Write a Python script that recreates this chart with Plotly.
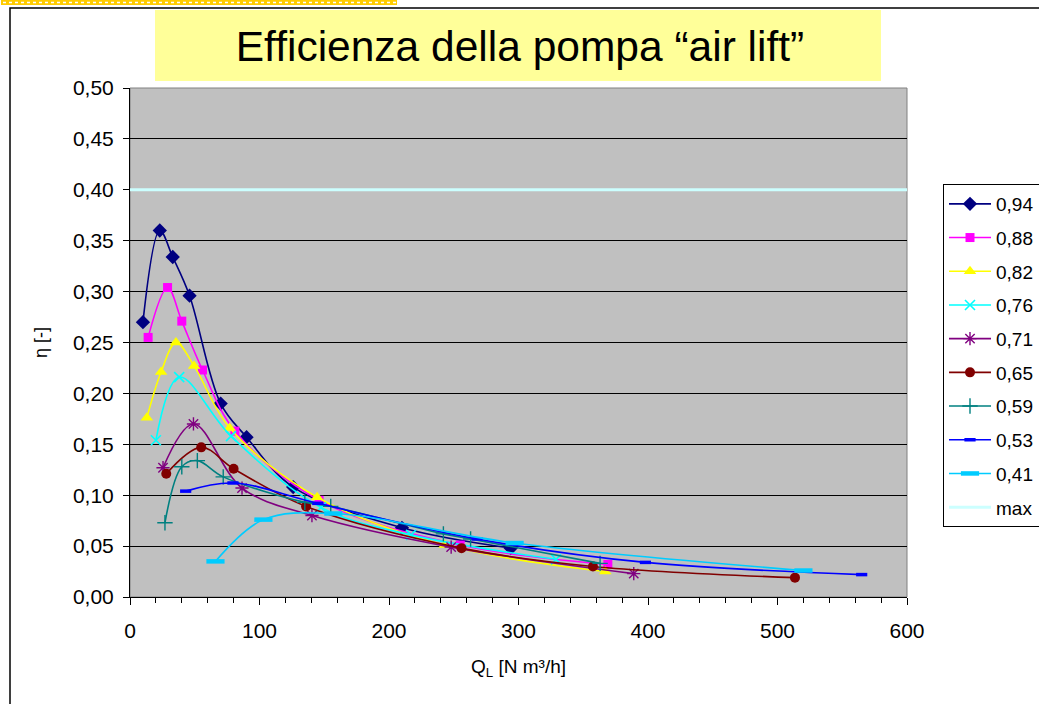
import plotly.graph_objects as go

# Air-lift pump efficiency vs. liquid flow rate, one series per submergence ratio
series_names = ["0,94", "0,88", "0,82", "0,76", "0,71", "0,65", "0,59", "0,53", "0,41"]

q_094 = [10, 23, 33, 46, 70, 90, 126, 210, 294]
eta_094 = [0.270, 0.360, 0.334, 0.296, 0.190, 0.157, 0.108, 0.068, 0.048]

q_088 = [14, 29, 40, 56, 81, 146, 255, 369]
eta_088 = [0.255, 0.304, 0.271, 0.223, 0.163, 0.095, 0.051, 0.032]

q_082 = [13, 24, 35.5, 49.5, 77, 144.5, 243, 367]
eta_082 = [0.176, 0.221, 0.250, 0.227, 0.166, 0.098, 0.051, 0.025]

q_076 = [20, 38, 78, 147.5, 217, 329]
eta_076 = [0.154, 0.216, 0.158, 0.088, 0.061, 0.037]

q_071 = [25.5, 49, 86.5, 140.5, 248, 389]
eta_071 = [0.127, 0.170, 0.107, 0.080, 0.049, 0.023]

q_065 = [28, 55, 80, 136, 256, 357.5, 513.5]
eta_065 = [0.121, 0.147, 0.126, 0.089, 0.048, 0.030, 0.019]

q_059 = [27, 40, 52, 72, 135, 155, 242, 263, 363]
eta_059 = [0.073, 0.128, 0.134, 0.118, 0.093, 0.089, 0.062, 0.057, 0.033]

q_053 = [43, 79.5, 145, 268, 398, 565]
eta_053 = [0.104, 0.112, 0.092, 0.057, 0.034, 0.022]

q_041 = [66, 103, 157, 297, 520]
eta_041 = [0.035, 0.076, 0.082, 0.053, 0.026]

q_max = [0, 600]
eta_max = [0.40, 0.40]

x_ticks = [0, 100, 200, 300, 400, 500, 600]

FONT = "Arial, 'Liberation Sans', sans-serif"

styles = [
    # (color, symbol, size, marker line width)
    ("#000080", "diamond", 11, 0),
    ("#FF00FF", "square", 9, 0),
    ("#FFFF00", "triangle-up", 11, 0),
    ("#00FFFF", "x-thin-open", 10, 1.6),
    ("#800080", "asterisk-open", 11, 1.4),
    ("#800000", "circle", 10, 0),
    ("#008080", "cross-thin-open", 11, 1.4),
    ("#0000FF", "line-ew-open", 8, 3.5),
    ("#00CCFF", "line-ew-open", 13, 4.5),
]

xs = [q_094, q_088, q_082, q_076, q_071, q_065, q_059, q_053, q_041]
ys = [eta_094, eta_088, eta_082, eta_076, eta_071, eta_065, eta_059, eta_053, eta_041]

fig = go.Figure()

# reference line drawn first so the curves sit on top of it
traces = []
for name, x, y, (col, sym, size, lw) in zip(series_names, xs, ys, styles):
    marker = dict(symbol=sym, size=size, color=col)
    if lw:
        marker["line"] = dict(color=col, width=lw)
    else:
        marker["line"] = dict(width=0)
    traces.append(go.Scatter(
        x=x, y=y, name=name, mode="lines+markers",
        line=dict(color=col, width=1.6, shape="spline", smoothing=1.0),
        marker=marker, legendgroup=name, legendrank=len(traces) + 1,
    ))

fig.add_trace(go.Scatter(
    x=q_max, y=eta_max, name="max", mode="lines",
    line=dict(color="#CCFFFF", width=3), legendgroup="max", legendrank=100,
))
for t in traces:
    fig.add_trace(t)

# plot-area geometry in pixels
L, R, T, B = 130, 907, 88, 597
W, H = 1039, 704
pw, ph = R - L, B - T


def px(xp):
    return (xp - L) / pw


def py(yp):
    return (B - yp) / ph


shapes = [
    # outer frame of the slide
    dict(type="rect", xref="paper", yref="paper", x0=px(10), x1=px(1060),
         y0=py(730), y1=py(8), line=dict(color="black", width=1.5),
         fillcolor="rgba(0,0,0,0)", layer="below"),
    # decorative strip along the top edge
    dict(type="rect", xref="paper", yref="paper", x0=px(1), x1=px(397),
         y0=py(5), y1=py(0), line=dict(width=0), fillcolor="#FFCC00",
         layer="below"),
    dict(type="line", xref="paper", yref="paper", x0=px(3), x1=px(396),
         y0=py(2.5), y1=py(2.5), line=dict(color="white", width=1.5, dash="dot"),
         layer="below"),
    # title box
    dict(type="rect", xref="paper", yref="paper", x0=px(155), x1=px(881),
         y0=py(81), y1=py(10), line=dict(width=0), fillcolor="#FFFF99",
         layer="below"),
    # plot-area border
    dict(type="rect", xref="paper", yref="paper", x0=0, x1=1, y0=0, y1=1,
         line=dict(color="#808080", width=1), fillcolor="rgba(0,0,0,0)",
         layer="below"),
]

fig.update_layout(
    width=W, height=H,
    margin=dict(l=L, r=W - R, t=T, b=H - B, autoexpand=False),
    paper_bgcolor="white",
    plot_bgcolor="#C0C0C0",
    separators=",.",
    font=dict(family=FONT, color="black", size=20),
    shapes=shapes,
    title=dict(
        text="Efficienza della pompa “air lift”",
        font=dict(family=FONT, size=42.5, color="black"),
        xref="paper", x=px(520), xanchor="center",
        yref="container", y=1 - 46 / H, yanchor="middle",
    ),
    showlegend=True,
    legend=dict(
        x=px(943), xanchor="left", y=py(184), yanchor="top",
        bgcolor="white", bordercolor="black", borderwidth=1,
        font=dict(family=FONT, size=19, color="black"),
        tracegroupgap=6, itemwidth=42, traceorder="grouped",
        entrywidth=70, entrywidthmode="pixels",
    ),
)

fig.update_xaxes(
    range=[0, 600], tickvals=x_ticks, ticks="outside", ticklen=7,
    tickcolor="black", tickwidth=1, showgrid=False, zeroline=False,
    showline=True, linecolor="black", linewidth=1,
    tickfont=dict(family=FONT, size=21), ticklabelstandoff=8,
    minor=dict(dtick=20, ticks="outside", ticklen=5, tickcolor="black",
               showgrid=False),
    title=dict(text="Q<sub>L</sub> [N m³/h]",
               font=dict(family=FONT, size=19), standoff=18),
)

fig.update_yaxes(
    range=[0, 0.5], dtick=0.05, tickformat=".2f", ticks="outside", ticklen=6,
    tickcolor="black", showgrid=True, gridcolor="black", gridwidth=1,
    zeroline=False, showline=True, linecolor="black", linewidth=1,
    tickfont=dict(family=FONT, size=21), ticklabelstandoff=5,
    title=dict(text="η [-]", font=dict(family=FONT, size=18), standoff=20),
)

fig.write_html("out.html")
